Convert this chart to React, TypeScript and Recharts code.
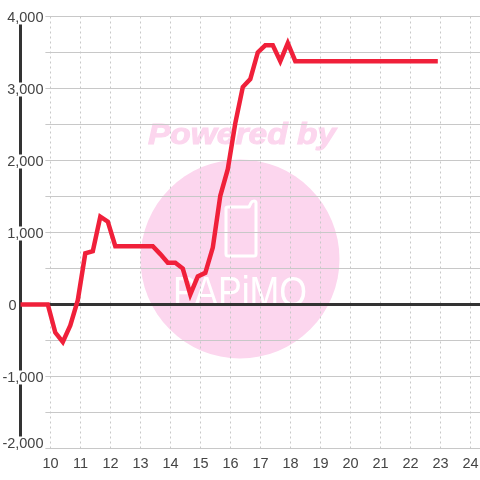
import React from 'react';
import { ComposedChart, Line, XAxis, YAxis, ReferenceLine } from 'recharts';

const hours = [9, 9.91, 10.16, 10.41, 10.66, 10.91, 11.16, 11.41, 11.66, 11.91, 12.16, 13.41, 13.66, 13.91, 14.16, 14.41, 14.66, 14.91, 15.16, 15.41, 15.66, 15.91, 16.16, 16.41, 16.66, 16.91, 17.16, 17.41, 17.66, 17.91, 18.16, 22.91];
const values = [0, 0, -390, -520, -290, 60, 710, 740, 1220, 1150, 810, 810, 700, 580, 580, 500, 140, 390, 440, 790, 1510, 1880, 2520, 3020, 3130, 3500, 3600, 3600, 3380, 3630, 3380, 3380];
const xTicks = [10, 11, 12, 13, 14, 15, 16, 17, 18, 19, 20, 21, 22, 23, 24];
const yLabelled = [-2000, -1000, 0, 1000, 2000, 3000, 4000];
const yGrid = [-2000, -1500, -1000, -500, 500, 1000, 1500, 2000, 2500, 3000, 3500, 4000];

const data = hours.map((h, i) => ({ h, v: values[i] }));
const X_MIN = 9;
const X_MAX = 24.3167;
const GRID_LEFT = 9.83;
const FONT = '"Liberation Sans", Arial, sans-serif';

const YTick = ({ y, payload }: any) => {
  const v = payload.value;
  const label = v.toLocaleString('en-US');
  if (v === 0) {
    return (
      <text x={16.5} y={y + 5} textAnchor="end" fontSize={14.5} fontFamily={FONT} fill="#444">
        {label}
      </text>
    );
  }
  const cy = v === -2000 ? y - 6 : y;
  return (
    <g>
      <rect x={6} y={cy - 6} width={38} height={14} fill="#fff" />
      <text x={43.5} y={cy + 5} textAnchor="end" fontSize={14.5} fontFamily={FONT} fill="#444">
        {label}
      </text>
    </g>
  );
};

const Watermark = () => (
  <svg width={480} height={480} style={{ position: 'absolute', left: 0, top: 0 }}>
    <circle cx={240} cy={259} r={99.5} fill="#fcd6ee" />
    <text x={242} y={144} textAnchor="middle" fontSize={30} fontWeight="bold" fontStyle="italic" fontFamily={FONT} fill="#fcd6ee" textLength={188} lengthAdjust="spacingAndGlyphs" stroke="#fcd6ee" strokeWidth={1}>
      Powered by
    </text>
    <path d="M226 208 Q226 207 228 207 H249 L251 203 Q252 201 254 201 Q256 201 256 203 V254 Q256 256 254 256 H228 Q226 256 226 254 Z" fill="none" stroke="#fff" strokeWidth={3} strokeLinejoin="round" />
    <text x={240} y={306} textAnchor="middle" fontSize={43} fontFamily={FONT} fill="#fff" textLength={134} lengthAdjust="spacingAndGlyphs">
      PAPiMO
    </text>
  </svg>
);

export default function App() {
  return (
    <div style={{ position: 'fixed', left: 0, top: 0, width: 480, height: 480 }}>
      <Watermark />
      <div style={{ position: 'absolute', left: 0, top: 0 }}>
        <ComposedChart width={480} height={480} data={data} margin={{ top: 16.5, right: 0, bottom: 0, left: 0 }}>
          <XAxis
            dataKey="h"
            type="number"
            domain={[X_MIN, X_MAX]}
            ticks={xTicks}
            axisLine={false}
            tickLine={false}
            height={31.5}
            interval={0}
            tickMargin={0}
            tick={{ fontSize: 14.5, fontFamily: FONT, fill: '#444', dy: 3 }}
          />
          <YAxis
            type="number"
            width={20.5}
            domain={[-2000, 4000]}
            ticks={yLabelled}
            axisLine={false}
            tickLine={false}
            interval={0}
            tick={<YTick />}
          />
          {yGrid.map((v) => (
            <ReferenceLine key={`h${v}`} segment={[{ x: GRID_LEFT, y: v }, { x: X_MAX, y: v }]} stroke="#c8c8c8" strokeWidth={1} />
          ))}
          {xTicks.map((t) => (
            <ReferenceLine key={`v${t}`} x={t} stroke="#c8c8c8" strokeWidth={1} strokeDasharray="2 3" />
          ))}
          <ReferenceLine y={0} stroke="#333" strokeWidth={3} />
          <ReferenceLine segment={[{ x: X_MIN, y: -2000 }, { x: X_MIN, y: 4000 }]} stroke="#333" strokeWidth={3} />
          <Line
            dataKey="v"
            type="linear"
            stroke="#f0203a"
            strokeWidth={4.5}
            dot={false}
            activeDot={false}
            isAnimationActive={false}
          />
        </ComposedChart>
      </div>
    </div>
  );
}
